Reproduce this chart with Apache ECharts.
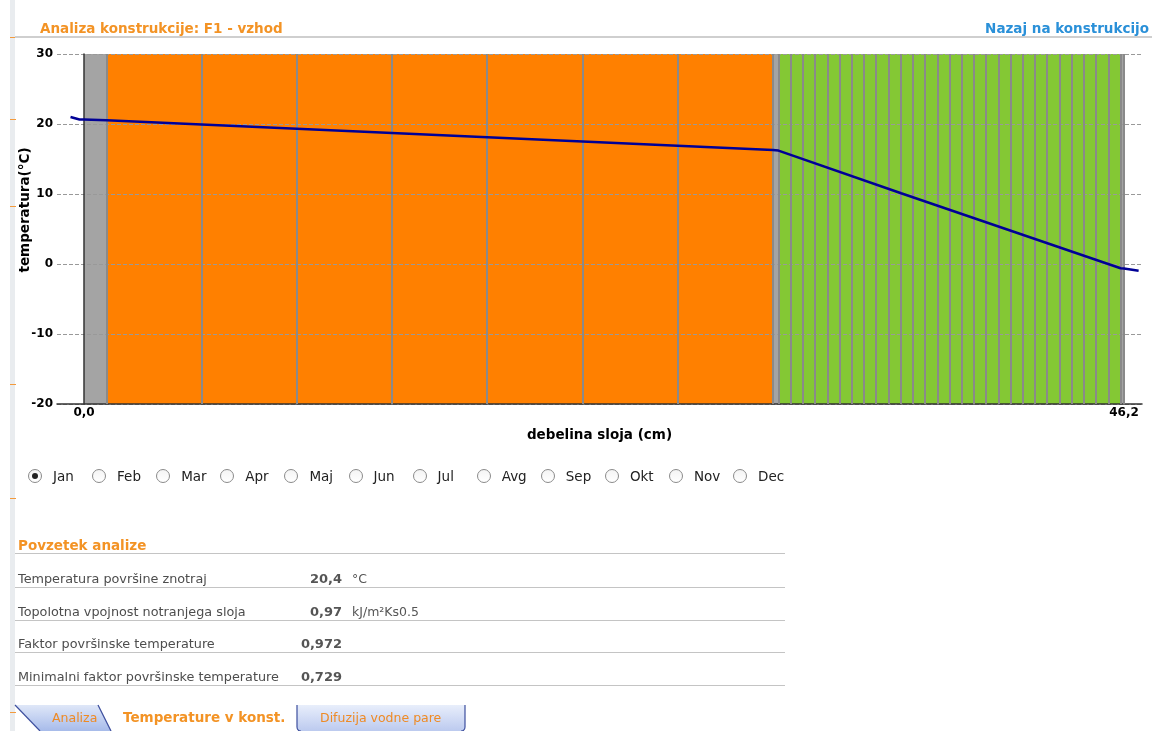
<!DOCTYPE html>
<html>
<head>
<meta charset="utf-8">
<script src="https://cdn.jsdelivr.net/npm/echarts@6/dist/echarts.min.js"></script>
<style>
html,body{margin:0;padding:0;width:1152px;height:731px;overflow:hidden;background:#fff;font-family:"DejaVu Sans",sans-serif;}
#chart{position:absolute;left:0;top:0;width:1152px;height:731px;}
.abs{position:absolute;white-space:nowrap;}
.strip{position:absolute;left:10px;top:0;width:5px;height:731px;background:#e9ecef;}
.otick{position:absolute;left:10px;width:6px;height:1px;background:#f39a3c;}
.title{left:40px;top:19px;font-size:13.5px;font-weight:bold;color:#f39325;line-height:18px;}
.back{right:3px;top:19px;font-size:13.5px;font-weight:bold;color:#2a90d8;line-height:18px;}
.hline{position:absolute;background:#cfcfcf;}
.radio{position:absolute;top:469px;width:12px;height:12px;border:1px solid #8a8a8a;border-radius:50%;background:linear-gradient(#f4f4f4,#fff);}
.radio.on::after{content:"";position:absolute;left:3px;top:3px;width:6px;height:6px;border-radius:50%;background:#222;}
.rlabel{position:absolute;top:468px;font-size:13.5px;line-height:16px;color:#222;}
.shead{left:18px;top:536px;font-size:13.5px;font-weight:bold;color:#f39325;line-height:18px;}
.slabel{position:absolute;left:18px;font-size:12.8px;color:#4d4d4d;line-height:16px;}
.sval{position:absolute;right:810px;font-size:13px;font-weight:bold;color:#555;line-height:16px;text-align:right;}
.sunit{position:absolute;left:352px;font-size:12.5px;color:#555;line-height:16px;}
</style>
</head>
<body>
<div id="chart"></div>

<div class="strip"></div>
<div class="otick" style="top:37px"></div>
<div class="otick" style="top:119px"></div>
<div class="otick" style="top:206px"></div>
<div class="otick" style="top:384px"></div>
<div class="otick" style="top:498px"></div>
<div class="otick" style="top:712px"></div>

<div class="abs title">Analiza konstrukcije: F1 - vzhod</div>
<div class="abs back">Nazaj na konstrukcijo</div>
<div class="hline" style="left:15px;top:36px;width:1137px;height:2px;"></div>

<div id="radios"></div>

<div class="abs shead">Povzetek analize</div>
<div class="hline" style="left:15px;top:553px;width:770px;height:1px;background:#c4c4c4;"></div>
<div id="summary"></div>

<svg class="abs" style="left:0;top:703px" width="480" height="28" viewBox="0 703 480 28">
  <defs>
    <linearGradient id="g1" x1="0" y1="0" x2="0" y2="1">
      <stop offset="0" stop-color="#dfe7f8"/>
      <stop offset="1" stop-color="#a7bbea"/>
    </linearGradient>
    <linearGradient id="g2" x1="0" y1="0" x2="0" y2="1">
      <stop offset="0" stop-color="#e8eefb"/>
      <stop offset="1" stop-color="#bccaef"/>
    </linearGradient>
  </defs>
  <polygon points="15,705 98,705 111,731 40,731" fill="url(#g1)"/>
  <line x1="15" y1="705" x2="40" y2="731" stroke="#3d4f9e" stroke-width="1.2"/>
  <line x1="98" y1="705" x2="111" y2="731" stroke="#3d4f9e" stroke-width="1.2"/>
  <path d="M297,705 L465,705 L465,727 Q465,731 461,731 L301,731 Q297,731 297,727 Z" fill="url(#g2)"/>
  <path d="M297,705 L297,727 Q297,731 301,731" fill="none" stroke="#3d4f9e" stroke-width="1.2"/>
  <path d="M465,705 L465,727 Q465,731 461,731" fill="none" stroke="#3d4f9e" stroke-width="1.2"/>
  <text x="52" y="722" font-family="DejaVu Sans" font-size="12.5" fill="#ee8a25">Analiza</text>
  <text x="123" y="722" font-family="DejaVu Sans" font-size="13.5" font-weight="bold" fill="#f39325">Temperature v konst.</text>
  <text x="320" y="722" font-family="DejaVu Sans" font-size="12.5" fill="#ee8a25">Difuzija vodne pare</text>
</svg>

<script>
// ---------- data ----------
const layerNames = ['Notranji omet', 'Opeka', 'Lepilo', 'Toplotna izolacija', 'Zaključni sloj'];
const layerThickness = [1.0, 29.6, 0.25, 15.2, 0.15];   // cm
const layerSublayers = [1, 7, 1, 28, 1];

const tempPosition = [-0.6, -0.2, 0.0, 1.0, 30.6, 30.85, 36.3, 46.05, 46.2, 46.85]; // cm
const tempValue    = [21.0, 20.65, 20.65, 20.55, 16.3, 16.2, 10.1, -0.6, -0.65, -0.95]; // °C

const xTickValues = [0, 46.2];
const yMin = -20, yMax = 30, yInterval = 10;

const months = ['Jan','Feb','Mar','Apr','Maj','Jun','Jul','Avg','Sep','Okt','Nov','Dec'];
const selectedMonth = 'Jan';

const summaryLabels = ['Temperatura površine znotraj', 'Topolotna vpojnost notranjega sloja', 'Faktor površinske temperature', 'Minimalni faktor površinske temperature'];
const summaryValues = ['20,4', '0,97', '0,972', '0,729'];
const summaryUnits  = ['°C', 'kJ/m²Ks0.5', '', ''];

// ---------- styles ----------
const LAYER_COLORS = ['#a4a4a4', '#ff8000', '#a4a4a4', '#84c834', '#a4a4a4'];

// ---------- page widgets ----------
const radios = document.getElementById('radios');
months.forEach((m, i) => {
  const cx = 35 + i * 64.1;
  const r = document.createElement('div');
  r.className = 'radio' + (m === selectedMonth ? ' on' : '');
  r.style.left = (cx - 7) + 'px';
  radios.appendChild(r);
  const l = document.createElement('div');
  l.className = 'rlabel';
  l.style.left = (cx + 18) + 'px';
  l.textContent = m;
  radios.appendChild(l);
});

const summary = document.getElementById('summary');
const rowCenters = [579, 612, 644, 677];
const rowLines = [587, 620, 652, 685];
summaryLabels.forEach((lab, i) => {
  const t = rowCenters[i] - 8;
  const a = document.createElement('div'); a.className = 'slabel'; a.style.top = t + 'px'; a.textContent = lab; summary.appendChild(a);
  const v = document.createElement('div'); v.className = 'sval'; v.style.top = t + 'px'; v.textContent = summaryValues[i]; summary.appendChild(v);
  if (summaryUnits[i]) { const u = document.createElement('div'); u.className = 'sunit'; u.style.top = t + 'px'; u.textContent = summaryUnits[i]; summary.appendChild(u); }
  const ln = document.createElement('div'); ln.className = 'hline'; ln.style.cssText = 'left:15px;width:770px;height:1px;background:#c4c4c4;top:' + rowLines[i] + 'px'; summary.appendChild(ln);
});

// ---------- chart ----------
const areas = [];
const dividers = [];
let start = 0;
layerThickness.forEach((t, i) => {
  const end = start + t;
  areas.push([{ name: layerNames[i], xAxis: start, itemStyle: { color: LAYER_COLORS[i] } }, { xAxis: end }]);
  if (i > 0) dividers.push({ xAxis: start });
  for (let k = 1; k < layerSublayers[i]; k++) dividers.push({ xAxis: start + k * t / layerSublayers[i] });
  start = end;
});
dividers.push({ xAxis: start });

const fmt = v => Number(v).toFixed(1).replace('.', ',');
const boldFont = { fontFamily: 'DejaVu Sans', fontWeight: 'bold', color: '#000' };

const chart = echarts.init(document.getElementById('chart'), null, { renderer: 'canvas' });
chart.setOption({
  animation: false,
  grid: { left: 57, top: 54, right: 10, bottom: 327 },
  xAxis: {
    type: 'value', min: -1.2, max: 47, z: 3,
    name: 'debelina sloja (cm)', nameLocation: 'middle', nameGap: 24,
    nameTextStyle: Object.assign({ fontSize: 13.5 }, boldFont),
    axisLine: { show: true, onZero: false, lineStyle: { color: '#333', width: 1.5 } },
    axisTick: { show: false },
    splitLine: { show: false },
    axisLabel: Object.assign({ customValues: xTickValues, formatter: fmt, fontSize: 12, margin: 3 }, boldFont)
  },
  yAxis: {
    type: 'value', min: yMin, max: yMax, interval: yInterval, z: 3,
    axisLine: { show: true, lineStyle: { color: '#333', width: 1.5 } },
    axisTick: { show: false },
    splitLine: { show: true, lineStyle: { type: 'dashed', color: '#999', width: 1 } },
    axisLabel: Object.assign({ fontSize: 12, margin: 4 }, boldFont)
  },
  graphic: [{
    type: 'text', x: 25, y: 210, rotation: Math.PI / 2,
    style: { text: 'temperatura(°C)', font: 'bold 13.5px "DejaVu Sans"', fill: '#000', align: 'center', verticalAlign: 'middle' }
  }],
  series: [
    {
      name: 'sloji', type: 'line', data: [], z: 1, silent: true,
      markArea: { silent: true, data: areas, label: { show: false } },
      markLine: {
        silent: true, symbol: ['none', 'none'], label: { show: false },
        lineStyle: { type: 'solid', color: '#8a8a8a', width: 2 },
        data: dividers
      }
    },
    {
      name: 'temperatura', type: 'line', z: 10,
      data: tempPosition.map((x, i) => [x, tempValue[i]]),
      showSymbol: false, symbol: 'none',
      lineStyle: { color: '#000096', width: 2.5 }
    }
  ]
});
</script>
</body>
</html>
